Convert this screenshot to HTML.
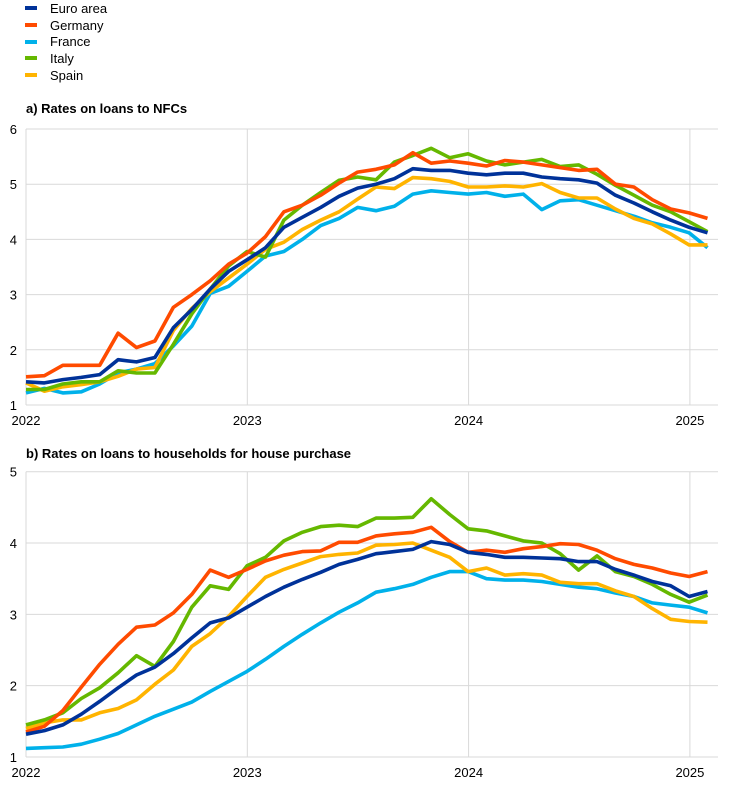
<!DOCTYPE html>
<html><head><meta charset="utf-8"><style>
body{margin:0;background:#fff;font-family:"Liberation Sans",Arial,sans-serif;}
svg text{font-family:"Liberation Sans",Arial,sans-serif;fill:#000;}
</style></head><body>
<svg id="s" width="744" height="784" xmlns="http://www.w3.org/2000/svg">
<g font-size="13">
<rect x="25" y="6" width="12" height="4" fill="#003299"/><text x="50" y="13">Euro area</text>
<rect x="25" y="23" width="12" height="4" fill="#ff4b00"/><text x="50" y="30">Germany</text>
<rect x="25" y="40" width="12" height="4" fill="#00b1ea"/><text x="50" y="46">France</text>
<rect x="25" y="56" width="12" height="4" fill="#65b800"/><text x="50" y="63">Italy</text>
<rect x="25" y="73" width="12" height="4" fill="#ffb400"/><text x="50" y="80">Spain</text>
</g>
<text x="26" y="113" font-size="13" font-weight="bold">a) Rates on loans to NFCs</text>
<text x="26" y="458" font-size="13" font-weight="bold">b) Rates on loans to households for house purchase</text>
<g id="a"></g><g id="b"></g>
</svg>
<script>
var X0=26,dx=18.42,R=718;
var cols={eu:"#003299",de:"#ff4b00",fr:"#00b1ea",it:"#65b800",es:"#ffb400"};
var A={
fr:[1.22,1.30,1.22,1.24,1.38,1.58,1.65,1.75,2.07,2.43,3.02,3.15,3.42,3.70,3.78,4.00,4.25,4.38,4.58,4.52,4.60,4.82,4.88,4.85,4.82,4.85,4.78,4.82,4.54,4.70,4.72,4.62,4.52,4.42,4.30,4.22,4.12,3.85],
es:[1.40,1.25,1.33,1.37,1.42,1.52,1.65,1.68,2.35,2.75,3.05,3.30,3.55,3.82,3.95,4.18,4.35,4.50,4.73,4.95,4.92,5.12,5.10,5.05,4.95,4.95,4.97,4.95,5.01,4.85,4.75,4.75,4.55,4.38,4.28,4.10,3.90,3.90],
it:[1.28,1.28,1.38,1.42,1.42,1.62,1.58,1.58,2.10,2.65,3.10,3.52,3.78,3.68,4.35,4.62,4.85,5.07,5.13,5.08,5.40,5.52,5.65,5.48,5.55,5.42,5.35,5.40,5.45,5.32,5.35,5.18,4.98,4.80,4.62,4.50,4.32,4.14],
de:[1.51,1.53,1.72,1.72,1.72,2.30,2.04,2.16,2.77,3.00,3.25,3.55,3.75,4.05,4.50,4.62,4.80,5.02,5.22,5.27,5.35,5.57,5.38,5.42,5.38,5.33,5.43,5.40,5.35,5.30,5.25,5.27,5.00,4.95,4.72,4.55,4.48,4.38],
eu:[1.42,1.40,1.46,1.50,1.55,1.82,1.78,1.86,2.40,2.73,3.10,3.42,3.63,3.85,4.22,4.40,4.58,4.78,4.93,5.00,5.10,5.28,5.25,5.25,5.20,5.17,5.20,5.20,5.13,5.10,5.08,5.02,4.80,4.66,4.50,4.35,4.22,4.12]};
var B={
fr:[1.12,1.13,1.14,1.18,1.25,1.33,1.45,1.57,1.67,1.77,1.92,2.06,2.20,2.37,2.55,2.72,2.88,3.03,3.16,3.31,3.36,3.42,3.52,3.60,3.60,3.50,3.48,3.48,3.46,3.42,3.38,3.36,3.30,3.25,3.16,3.13,3.10,3.02],
es:[1.40,1.48,1.52,1.52,1.62,1.68,1.80,2.02,2.22,2.55,2.73,2.97,3.25,3.52,3.63,3.72,3.81,3.84,3.86,3.97,3.98,4.00,3.90,3.80,3.60,3.65,3.55,3.57,3.55,3.45,3.43,3.43,3.33,3.25,3.08,2.93,2.90,2.89],
it:[1.45,1.52,1.62,1.82,1.97,2.18,2.42,2.27,2.62,3.10,3.40,3.35,3.68,3.80,4.03,4.15,4.23,4.25,4.23,4.35,4.35,4.36,4.62,4.40,4.20,4.17,4.10,4.03,4.00,3.85,3.62,3.82,3.60,3.53,3.42,3.28,3.17,3.27],
de:[1.35,1.43,1.65,1.98,2.30,2.58,2.82,2.85,3.02,3.28,3.62,3.52,3.63,3.75,3.83,3.88,3.89,4.01,4.01,4.10,4.13,4.15,4.22,4.02,3.87,3.90,3.87,3.92,3.95,3.99,3.98,3.90,3.78,3.70,3.65,3.58,3.53,3.60],
eu:[1.32,1.37,1.45,1.60,1.78,1.97,2.15,2.26,2.45,2.67,2.88,2.95,3.10,3.25,3.38,3.49,3.59,3.70,3.77,3.85,3.88,3.91,4.02,3.98,3.87,3.84,3.80,3.80,3.79,3.78,3.74,3.74,3.63,3.55,3.46,3.40,3.25,3.32]};
function draw(id,data,top,bot,vmax,vmin){
 var g=document.getElementById(id),h="",u=(bot-top)/(vmax-vmin);
 for(var v=vmin;v<=vmax;v++){var y=bot-(v-vmin)*u;
  h+='<line x1="'+X0+'" x2="'+R+'" y1="'+y+'" y2="'+y+'" stroke="#d9d9d9" stroke-width="1"/>';
  h+='<text x="17" y="'+(y+5)+'" font-size="13" text-anchor="end">'+v+'</text>';}
 var yrs=[2022,2023,2024,2025];
 for(var k=0;k<4;k++){var x=X0+k*221.3;
  h+='<line x1="'+x+'" x2="'+x+'" y1="'+top+'" y2="'+bot+'" stroke="#d9d9d9" stroke-width="1"/>';
  h+='<text x="'+x+'" y="'+(bot+20)+'" font-size="13" text-anchor="middle">'+yrs[k]+'</text>';}
 ["fr","es","it","de","eu"].forEach(function(c){var p=data[c].map(function(v,i){return (X0+i*dx).toFixed(1)+","+(bot-(v-vmin)*u).toFixed(1)}).join(" ");
  h+='<polyline points="'+p+'" fill="none" stroke="'+cols[c]+'" stroke-width="3.6" stroke-linejoin="round"/>';});
 g.innerHTML=h;}
draw("a",A,129,405,6,1);
draw("b",B,471.7,757,5,1);
</script>
</body></html>
